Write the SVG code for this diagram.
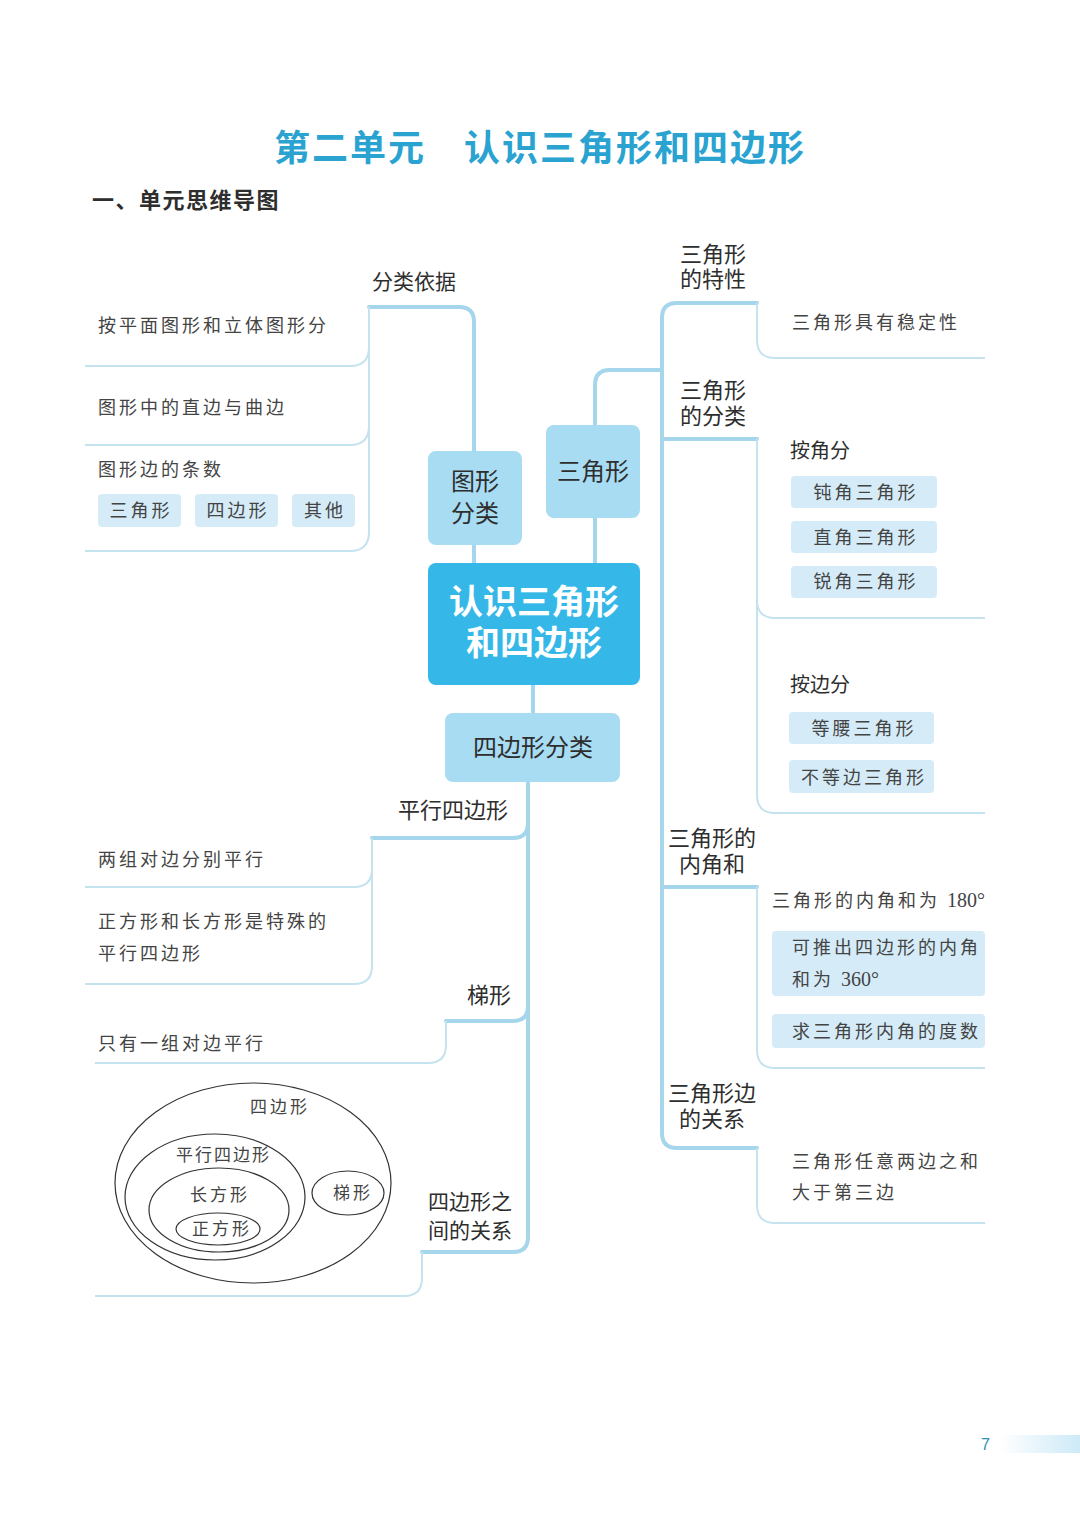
<svg xmlns="http://www.w3.org/2000/svg" width="1080" height="1515" viewBox="0 0 1080 1515">
<defs>
<linearGradient id="pg" x1="0" y1="0" x2="1" y2="0">
<stop offset="0" stop-color="#ffffff"/>
<stop offset="1" stop-color="#cdeaf7"/>
</linearGradient>
<style>
.thick{fill:none;stroke:#a6d6ec;stroke-width:4;stroke-linecap:round;stroke-linejoin:round}
.thin{fill:none;stroke:#c4e3ee;stroke-width:2}
.node{fill:#a8dcf3}
.core{fill:#35b8e7}
.chip{fill:#d5ecf8}
.lab{font-family:"Noto Sans CJK SC","Noto Sans",sans-serif;fill:#2e2e2e}
.kai{font-family:"Noto Sans CJK SC","Noto Sans",sans-serif;fill:#444;font-size:18px;letter-spacing:3px}
.num{font-family:"Liberation Serif",serif;letter-spacing:0}
.ven{fill:none;stroke:#333;stroke-width:1.2}
</style>
</defs>
<rect width="1080" height="1515" fill="#ffffff"/>

<text x="540" y="161" text-anchor="middle" font-family="Noto Sans CJK SC, sans-serif" font-weight="700" font-size="36" letter-spacing="2" fill="#2aa3d1">第二单元　认识三角形和四边形</text>
<text x="92" y="208" class="lab" font-size="22" font-weight="700" letter-spacing="1.5">一、单元思维导图</text>

<g id="connectors">
<path class="thick" d="M474,451 V322 Q474,307 459,307 H369"/>
<path class="thin" d="M369,307 V532 Q369,551 350,551 H85"/>
<path class="thin" d="M85,366 H350 Q369,366 369,347"/>
<path class="thin" d="M85,445 H350 Q369,445 369,426"/>
<path class="thick" d="M474,545 V563"/>
<path class="thick" d="M595,518 V563"/>
<path class="thick" d="M533,685 V713"/>
<path class="thick" d="M595,425 V385 Q595,370 610,370 H662"/>
<path class="thick" d="M757,303 H677 Q662,303 662,318 V1133 Q662,1148 677,1148 H757"/>
<path class="thick" d="M662,439 H757"/>
<path class="thick" d="M662,887 H757"/>
<path class="thin" d="M757,303 V340 Q757,358 775,358 H985"/>
<path class="thin" d="M757,439 V795 Q757,813 775,813 H985"/>
<path class="thin" d="M757,600 Q757,618 775,618 H985"/>
<path class="thin" d="M757,887 V1050 Q757,1068 775,1068 H985"/>
<path class="thin" d="M757,1148 V1205 Q757,1223 775,1223 H985"/>
<path class="thick" d="M528,782 V1237 Q528,1252 513,1252 H422"/>
<path class="thick" d="M372,838 H513 Q528,838 528,823"/>
<path class="thick" d="M446,1021 H513 Q528,1021 528,1006"/>
<path class="thin" d="M372,838 V966 Q372,984 354,984 H85"/>
<path class="thin" d="M85,887 H354 Q372,887 372,869"/>
<path class="thin" d="M446,1021 V1045 Q446,1063 428,1063 H95"/>
<path class="thin" d="M422,1252 V1278 Q422,1296 404,1296 H95"/>
</g>

<g id="core">
<rect class="core" x="428" y="563" width="212" height="122" rx="8"/>
<text text-anchor="middle" class="lab" font-size="34" font-weight="700" style="fill:#ffffff"><tspan x="534" y="614">认识三角形</tspan><tspan x="534" y="655">和四边形</tspan></text>
</g>

<g id="node-txfl">
<rect class="node" x="428" y="451" width="94" height="94" rx="8"/>
<text text-anchor="middle" class="lab" font-size="24"><tspan x="475" y="490">图形</tspan><tspan x="475" y="522">分类</tspan></text>
</g>

<g id="node-sjx">
<rect class="node" x="546" y="425" width="94" height="93" rx="8"/>
<text x="593" y="480" text-anchor="middle" class="lab" font-size="24">三角形</text>
</g>

<g id="node-sbxfl">
<rect class="node" x="445" y="713" width="175" height="69" rx="8"/>
<text x="533" y="756" text-anchor="middle" class="lab" font-size="24">四边形分类</text>
</g>

<g id="branch-flyj">
<text x="372" y="289" class="lab" font-size="21">分类依据</text>
<text x="98" y="332" class="kai">按平面图形和立体图形分</text>
<text x="98" y="414" class="kai">图形中的直边与曲边</text>
<text x="98" y="476" class="kai">图形边的条数</text>
<rect class="chip" x="98" y="494" width="83" height="33" rx="4"/>
<rect class="chip" x="195" y="494" width="83" height="33" rx="4"/>
<rect class="chip" x="292" y="494" width="63" height="33" rx="4"/>
<text x="141" y="517" text-anchor="middle" class="kai">三角形</text>
<text x="238" y="517" text-anchor="middle" class="kai">四边形</text>
<text x="325" y="517" text-anchor="middle" class="kai">其他</text>
</g>

<g id="branch-tx">
<text class="lab" font-size="22"><tspan x="680" y="262">三角形</tspan><tspan x="680" y="287">的特性</tspan></text>
<text x="792" y="329" class="kai">三角形具有稳定性</text>
</g>

<g id="branch-fl">
<text class="lab" font-size="22"><tspan x="680" y="398">三角形</tspan><tspan x="680" y="424">的分类</tspan></text>
<text x="790" y="458" class="lab" font-size="20">按角分</text>
<rect class="chip" x="791" y="476" width="146" height="32" rx="4"/>
<rect class="chip" x="791" y="521" width="146" height="32" rx="4"/>
<rect class="chip" x="791" y="566" width="146" height="32" rx="4"/>
<text x="866" y="499" text-anchor="middle" class="kai">钝角三角形</text>
<text x="866" y="544" text-anchor="middle" class="kai">直角三角形</text>
<text x="866" y="588" text-anchor="middle" class="kai">锐角三角形</text>
<text x="790" y="692" class="lab" font-size="20">按边分</text>
<rect class="chip" x="789" y="712" width="145" height="32" rx="4"/>
<rect class="chip" x="789" y="760" width="145" height="33" rx="4"/>
<text x="864" y="735" text-anchor="middle" class="kai">等腰三角形</text>
<text x="864" y="784" text-anchor="middle" class="kai">不等边三角形</text>
</g>

<g id="branch-njh">
<text class="lab" font-size="22" text-anchor="middle"><tspan x="712" y="846">三角形的</tspan><tspan x="712" y="872">内角和</tspan></text>
<text x="772" y="907" class="kai">三角形的内角和为 <tspan class="num" font-size="20">180°</tspan></text>
<rect class="chip" x="772" y="931" width="213" height="65" rx="4"/>
<text class="kai"><tspan x="792" y="954">可推出四边形的内角</tspan><tspan x="792" y="986">和为 <tspan class="num" font-size="20">360°</tspan></tspan></text>
<rect class="chip" x="772" y="1014" width="213" height="34" rx="4"/>
<text x="792" y="1038" class="kai">求三角形内角的度数</text>
</g>

<g id="branch-bgx">
<text class="lab" font-size="22" text-anchor="middle"><tspan x="712" y="1101">三角形边</tspan><tspan x="712" y="1127">的关系</tspan></text>
<text class="kai"><tspan x="792" y="1168">三角形任意两边之和</tspan><tspan x="792" y="1199">大于第三边</tspan></text>
</g>

<g id="branch-pxsbx">
<text x="398" y="818" class="lab" font-size="22">平行四边形</text>
<text x="98" y="866" class="kai">两组对边分别平行</text>
<text class="kai"><tspan x="98" y="928">正方形和长方形是特殊的</tspan><tspan x="98" y="960">平行四边形</tspan></text>
</g>

<g id="branch-tixing">
<text x="467" y="1003" class="lab" font-size="22">梯形</text>
<text x="98" y="1050" class="kai">只有一组对边平行</text>
</g>

<g id="branch-gx">
<text class="lab" font-size="21"><tspan x="428" y="1209">四边形之</tspan><tspan x="428" y="1238">间的关系</tspan></text>
<ellipse class="ven" cx="253" cy="1183" rx="138" ry="100"/>
<ellipse class="ven" cx="215" cy="1197" rx="90" ry="63"/>
<ellipse class="ven" cx="219" cy="1210" rx="70" ry="42"/>
<ellipse class="ven" cx="218" cy="1229" rx="42" ry="16"/>
<ellipse class="ven" cx="348" cy="1193" rx="36" ry="22"/>
<text x="250" y="1113" class="kai" style="font-size:17px">四边形</text>
<text x="176" y="1161" class="kai" style="font-size:17px;letter-spacing:2px">平行四边形</text>
<text x="190" y="1201" class="kai" style="font-size:17px">长方形</text>
<text x="192" y="1235" class="kai" style="font-size:17px">正方形</text>
<text x="333" y="1199" class="kai" style="font-size:17px">梯形</text>
</g>

<g id="page">
<rect x="1000" y="1435" width="80" height="18" fill="url(#pg)"/>
<text x="981" y="1450" font-family="Liberation Sans, sans-serif" font-size="16" fill="#2c8fb3">7</text>
</g>
</svg>
